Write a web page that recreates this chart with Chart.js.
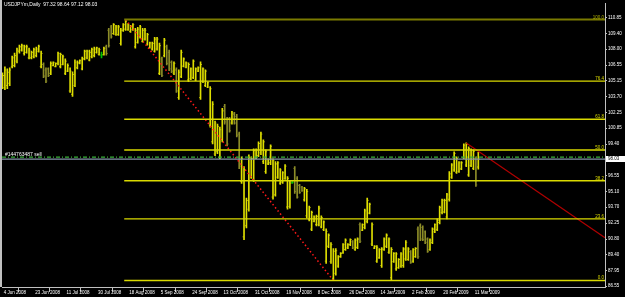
<!DOCTYPE html>
<html lang="en">
<head>
<meta charset="UTF-8">
<title>USDJPYm,Daily</title>
<script src="https://cdn.jsdelivr.net/npm/chart.js@4.4.0/dist/chart.umd.min.js"></script>
<style>
  html, body { margin: 0; padding: 0; background: #000; }
</style>
</head>
<body>
<canvas id="chart" width="625" height="297"></canvas>
<script>
const titleText = 'USDJPYm,Daily  97.32 98.64 97.12 98.03';
const orderText = '#144763487 sell';

// daily bars from 4 Jun 2008 (index 0) to 13 Mar 2009 (index 197)
const opens = [
  104.60,104.50,104.70,104.90,106.40,106.50,106.90,107.80,107.90,107.60,
  107.70,107.20,107.20,107.30,107.40,107.80,106.40,106.60,106.10,106.20,
  105.80,106.50,106.40,106.70,106.40,106.60,105.80,106.00,104.20,103.90,
  104.70,106.30,106.70,106.20,107.10,107.20,107.00,107.30,107.40,107.70,
  107.50,107.45,107.50,108.20,109.70,110.00,109.40,109.30,109.30,108.50,
  109.70,109.80,109.75,109.60,109.75,108.20,108.60,109.10,108.70,108.90,
  108.45,108.15,108.00,107.80,108.00,105.80,107.10,107.40,108.20,107.70,
  106.80,105.80,106.10,103.60,105.50,106.45,106.35,105.20,105.30,105.40,
  105.20,106.00,103.60,105.05,104.70,104.55,101.10,99.60,98.50,98.70,
  98.20,99.80,102.80,101.60,101.70,101.30,102.10,101.90,100.30,96.00,
  91.00,92.00,93.50,96.40,96.20,98.15,98.35,98.60,97.80,96.90,
  97.60,97.70,94.60,94.80,96.40,95.85,95.95,96.30,93.70,93.75,
  95.93,97.20,96.30,95.65,95.50,94.35,92.90,92.55,91.70,92.40,
  92.10,92.10,91.90,91.65,88.80,90.15,88.75,87.25,87.70,88.35,
  89.20,89.55,89.85,90.00,90.30,90.55,89.85,90.05,92.10,91.60,
  91.85,92.40,93.15,90.35,89.98,88.80,89.10,88.40,89.85,90.15,
  89.60,87.30,88.75,88.10,88.20,88.35,88.40,89.00,88.95,89.65,
  88.80,89.20,91.70,92.00,91.85,91.45,90.80,89.85,90.50,91.45,
  91.65,92.30,93.20,93.25,92.80,94.40,96.40,97.05,96.85,96.90,
  97.15,98.15,97.50,96.60,97.45,97.20,98.10,97.32
];
const highs = [
  105.85,106.38,106.20,106.29,107.37,107.63,108.08,108.35,108.44,108.35,
  108.35,108.08,107.81,108.08,108.17,108.35,107.81,106.74,106.29,106.29,
  106.83,106.83,106.74,107.72,107.63,107.45,107.10,106.65,106.29,105.94,
  107.01,106.92,107.01,107.28,107.90,107.90,107.90,108.08,108.17,108.17,
  108.08,107.72,108.17,108.35,109.87,110.14,110.31,110.14,110.14,109.87,
  110.31,110.67,110.31,110.14,110.31,109.87,109.96,110.14,109.87,109.87,
  109.42,108.62,108.62,109.06,109.06,108.53,107.28,108.97,108.35,107.90,
  106.92,106.83,106.29,106.11,107.90,107.19,106.83,106.74,106.29,107.01,
  106.29,106.38,106.83,106.29,106.11,105.04,104.59,103.25,101.47,101.20,
  100.93,102.63,102.99,101.82,101.82,102.36,102.27,102.09,100.48,98.25,
  97.36,94.50,98.43,98.25,98.96,98.96,99.59,100.48,99.77,98.87,
  98.07,99.32,98.07,97.80,97.80,97.18,96.91,97.53,96.46,96.02,
  96.02,97.36,96.46,95.75,95.57,95.48,95.30,93.78,93.33,92.89,
  92.98,93.78,92.89,92.44,91.72,91.28,90.47,89.94,89.94,89.31,
  89.58,90.38,90.83,90.38,90.83,90.65,90.83,90.92,92.26,92.17,
  93.51,94.50,94.05,92.26,90.21,90.21,89.94,90.03,90.92,91.28,
  90.92,90.03,89.58,89.58,89.04,89.58,90.03,90.65,90.03,89.76,
  89.94,90.03,91.90,92.17,91.99,91.55,90.92,90.83,91.81,92.17,
  92.62,93.78,94.41,94.41,94.94,96.91,97.62,98.70,98.25,97.80,
  97.80,99.41,99.50,99.14,98.96,98.87,98.25,98.64
];
const lows = [
  104.42,104.33,104.42,104.68,106.29,106.38,106.74,107.63,107.81,107.45,
  107.63,107.10,107.10,107.19,107.28,107.72,106.29,105.40,104.95,105.49,
  105.67,106.47,106.38,106.56,106.29,106.56,105.67,105.94,104.06,103.70,
  104.59,106.20,106.65,106.11,107.01,107.10,106.92,107.19,107.28,107.63,
  107.45,107.19,107.45,107.45,108.17,108.97,109.33,109.24,109.24,108.35,
  109.60,109.69,109.69,109.51,109.69,108.08,108.53,108.97,108.62,108.79,
  108.35,108.08,107.90,107.72,107.90,105.67,105.49,107.28,106.56,106.03,
  105.85,105.67,104.06,103.43,105.40,106.38,106.29,105.04,105.22,105.31,
  105.13,105.94,103.43,104.95,104.59,104.50,100.93,99.41,98.34,98.52,
  98.07,99.59,101.20,99.23,100.48,101.20,101.20,100.04,97.18,95.84,
  90.74,91.81,93.33,96.28,96.02,98.07,98.25,98.43,97.62,96.73,
  97.53,97.53,94.41,94.67,96.28,95.75,95.84,96.19,93.51,93.60,
  95.84,94.94,94.50,94.94,95.12,94.23,92.71,92.44,91.55,92.35,
  91.99,91.99,91.81,91.55,88.60,90.03,88.60,87.05,87.53,88.24,
  89.13,89.49,89.76,89.94,90.21,89.94,89.76,89.94,90.47,91.55,
  91.72,92.26,93.07,90.21,89.94,88.69,89.04,88.24,89.76,90.03,
  89.49,87.10,88.69,87.97,88.15,88.24,88.24,88.87,88.87,88.60,
  88.69,89.13,89.04,90.65,90.65,90.38,89.58,89.76,90.38,91.37,
  91.55,92.17,93.07,93.16,92.62,94.23,96.28,96.91,96.73,96.82,
  97.09,98.07,97.36,96.46,97.36,97.09,95.57,97.12
];
const closes = [
  105.60,106.10,105.90,106.10,107.20,107.40,107.90,108.20,108.30,108.20,
  108.20,107.90,107.70,107.95,108.00,108.25,107.60,105.55,105.10,105.60,
  106.70,106.80,106.70,107.60,107.50,107.30,106.90,106.50,106.00,105.70,
  106.80,106.80,106.95,107.10,107.80,107.80,107.70,107.95,108.00,108.10,
  107.95,107.45,108.05,107.60,108.30,109.10,110.20,110.00,110.00,109.70,
  110.20,110.50,110.20,110.05,110.20,109.70,109.80,110.00,109.70,109.70,
  109.30,108.55,108.50,108.90,108.90,108.30,105.60,108.80,106.70,106.20,
  106.00,106.70,104.20,105.90,107.70,107.10,106.75,106.60,106.20,106.90,
  106.20,106.30,106.60,106.20,106.00,104.95,104.40,103.00,101.30,101.00,
  100.70,102.40,101.40,99.40,100.60,102.20,101.30,100.20,97.40,98.10,
  97.10,94.30,98.20,98.10,98.80,98.85,99.45,100.30,99.60,98.70,
  98.00,99.20,97.90,97.60,97.70,97.05,96.80,97.40,96.30,95.85,
  95.93,95.10,94.60,95.00,95.20,95.35,95.10,93.65,93.20,92.80,
  92.85,93.60,92.75,92.35,91.50,91.15,90.30,89.70,89.75,89.20,
  89.50,90.30,90.70,90.30,90.75,90.00,90.70,90.80,90.60,92.10,
  93.35,94.30,93.95,92.10,90.15,90.05,89.85,89.90,90.80,91.15,
  90.80,89.85,89.50,89.45,88.95,89.45,89.90,90.50,89.90,88.70,
  89.85,89.95,89.20,90.80,90.75,90.50,89.70,90.70,91.70,92.10,
  92.50,93.65,94.30,94.30,94.80,96.70,97.50,98.55,98.10,97.70,
  97.70,99.30,99.35,99.00,98.85,98.75,95.70,98.03
];

const dateTickBars = [0, 13, 26, 39, 52, 65, 78, 91, 104, 117, 130, 143, 156, 169, 182, 195];
const dateLabels = ['4 Jun 2008', '23 Jun 2008', '11 Jul 2008', '30 Jul 2008', '18 Aug 2008',
  '5 Sep 2008', '24 Sep 2008', '13 Oct 2008', '31 Oct 2008', '19 Nov 2008', '8 Dec 2008',
  '26 Dec 2008', '14 Jan 2009', '2 Feb 2009', '20 Feb 2009', '11 Mar 2009'];
const priceTicks = [110.85, 109.40, 108.00, 106.55, 105.15, 103.70, 102.25, 100.85, 99.40,
  96.55, 95.10, 93.70, 92.25, 90.80, 89.40, 87.95, 86.55];

const fibLevels = [0.0, 23.6, 38.2, 50.0, 61.8, 76.4, 100.0];
const fibHigh = 110.67;
const fibLow = 87.05;
const fibFromBar = 50.4;
const trendDotted = [[51, 110.67], [137, 87.05]];
const trendRay = [[192, 99.50], [249.45, 90.92]];
const orderPrice = 98.22;
const bidPrice = 98.03;

const X_MIN = -0.2, X_MAX = 249.45;
const UP = '#dede00', DOWN = '#8c8c28', DOJI = '#00c000';
const FONT = '"Liberation Sans", Arial, sans-serif';

function barColor(i) {
    if (opens[i] === closes[i]) return DOJI;
    return closes[i] > opens[i] ? UP : DOWN;
}

const hline = (y, from, color, dash, width) => ({
    type: 'line',
    data: [{x: from, y: y}, {x: X_MAX, y: y}],
    borderColor: color, borderWidth: width || 1, borderDash: dash || [],
    pointRadius: 0, order: 1
});

const datasets = [{
    type: 'bar',
    data: highs.map((h, i) => ({x: i, y: [lows[i], h]})),
    backgroundColor: highs.map((h, i) => barColor(i)),
    barThickness: 1,
    grouped: false,
    order: 2
}];

fibLevels.forEach(lvl => {
    const p = fibLow + (fibHigh - fibLow) * lvl / 100;
    datasets.push(hline(p, fibFromBar, lvl === 100 ? '#7a7a00' : '#dada00', null, lvl === 100 ? 2 : 1.4));
});
datasets.push(hline(orderPrice, X_MIN, '#38b038', [4, 2, 1, 2], 1.2));
datasets.push(hline(bidPrice, X_MIN, '#8494a8', null, 1.2));
datasets.push({
    type: 'line',
    data: trendDotted.map(p => ({x: p[0], y: p[1]})),
    borderColor: '#ff1818', borderWidth: 1.5, borderDash: [1.5, 2.5],
    pointRadius: 0, order: 1
});
datasets.push({
    type: 'line',
    data: trendRay.map(p => ({x: p[0], y: p[1]})),
    borderColor: '#b00000', borderWidth: 1.2,
    pointRadius: 0, order: 1
});

// open / close ticks beside each bar, plus chart texts
const ohlcExtras = {
    id: 'ohlcExtras',
    afterDatasetDraw(chart, args) {
        if (args.meta.type !== 'bar') return;
        const ctx = chart.ctx;
        const y = chart.scales.y;
        const a = chart.chartArea;
        ctx.save();
        ctx.beginPath();
        ctx.rect(a.left, a.top, a.right - a.left, a.bottom - a.top);
        ctx.clip();
        args.meta.data.forEach((el, i) => {
            ctx.fillStyle = barColor(i);
            ctx.fillRect(el.x - 1.3, y.getPixelForValue(opens[i]) - 0.5, 0.8, 1);
            ctx.fillRect(el.x + 0.5, y.getPixelForValue(closes[i]) - 0.5, 0.8, 1);
        });
        ctx.restore();
    },
    afterDraw(chart) {
        const ctx = chart.ctx;
        const a = chart.chartArea;
        const y = chart.scales.y;
        ctx.save();
        ctx.fillStyle = '#c0c0c0';
        ctx.fillRect(0, 0, 2, a.bottom);
        ctx.font = '5px ' + FONT;
        ctx.fillStyle = '#ffffff';
        ctx.textBaseline = 'top';
        ctx.fillText(titleText, 4, 2);
        ctx.textBaseline = 'alphabetic';
        ctx.fillText(orderText, 5, Math.round(y.getPixelForValue(orderPrice)) - 1);
        ctx.textAlign = 'right';
        ctx.font = '4.5px ' + FONT;
        fibLevels.forEach(lvl => {
            const p = fibLow + (fibHigh - fibLow) * lvl / 100;
            ctx.fillStyle = lvl === 100 ? '#b0b000' : '#dada00';
            ctx.fillText(lvl.toFixed(1), a.right - 1, Math.round(y.getPixelForValue(p)) - 1);
        });
        const yb = Math.round(y.getPixelForValue(bidPrice));
        ctx.fillStyle = '#ffffff';
        ctx.fillRect(a.right + 1, yb - 3, 625 - a.right - 1, 6);
        ctx.fillStyle = '#000000';
        ctx.textAlign = 'left';
        ctx.textBaseline = 'middle';
        ctx.fillText(bidPrice.toFixed(2), a.right + 3, yb);
        ctx.restore();
    }
};

new Chart(document.getElementById('chart'), {
    type: 'bar',
    data: {datasets: datasets},
    options: {
        responsive: false,
        animation: false,
        devicePixelRatio: 1,
        layout: {padding: {left: 2, top: 0, right: 0, bottom: 0}},
        plugins: {legend: {display: false}, tooltip: {enabled: false}},
        scales: {
            x: {
                type: 'linear', min: X_MIN, max: X_MAX, offset: false,
                afterBuildTicks: s => { s.ticks = dateTickBars.map(v => ({value: v})); },
                afterFit: s => { s.height = 10; },
                ticks: {
                    callback: (v, i) => ' ' + dateLabels[i],
                    color: '#ffffff', font: {size: 4.5, family: FONT},
                    align: 'start', maxRotation: 0, autoSkip: false, padding: -2
                },
                grid: {display: true, drawOnChartArea: false, drawTicks: true, tickLength: 5, color: '#c0c0c0'},
                border: {display: true, color: '#c0c0c0'}
            },
            y: {
                type: 'linear', position: 'right', min: 86.46, max: 112.10,
                afterBuildTicks: s => { s.ticks = priceTicks.map(v => ({value: v})); },
                afterFit: s => { s.width = 20; },
                ticks: {
                    callback: v => v.toFixed(2),
                    color: '#ffffff', font: {size: 4.5, family: FONT},
                    autoSkip: false, padding: 1
                },
                grid: {display: true, drawOnChartArea: false, drawTicks: true, tickLength: 2, color: '#c0c0c0'},
                border: {display: true, color: '#c0c0c0'}
            }
        }
    },
    plugins: [ohlcExtras]
});
</script>
</body>
</html>
